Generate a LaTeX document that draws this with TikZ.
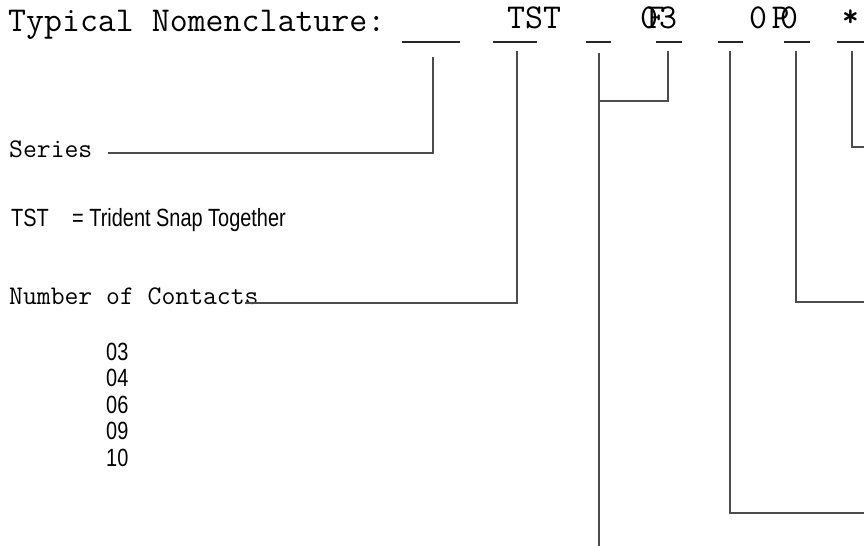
\documentclass[tikz,border=0pt]{standalone}
\usepackage{fontspec}
\setsansfont{Liberation Sans}[FakeStretch=0.8]
\usetikzlibrary{positioning}

\tikzset{
  head/.style={font=\ttfamily\fontsize{35}{40}\selectfont, anchor=base west, inner sep=0pt},
  mono/.style={font=\ttfamily\fontsize{27}{30}\selectfont, anchor=base west, inner sep=0pt},
  narrow/.style={font=\sffamily\fontsize{25}{28}\selectfont, anchor=base west, inner sep=0pt},
  blank/.style={line width=2.4bp, black!85},
  lead/.style={line width=1.3bp, black!70},
}

\begin{document}
\begin{tikzpicture}[x=1bp,y=-1bp]
  \useasboundingbox (0,0) rectangle (864,546);

  % header line
  \node[head] (title) at (8,32) {Typical Nomenclature:};
  \node[head] (tst) at (507,29) {TST};
  \node[head] (cz) at (640,29) {0};
  \node[head] (cf) at (647,29) {F};
  \node[head] (ct) at (659,29) {3};
  \node[head] (oz) at (749,29) {0};
  \node[head] (op) at (771.5,29) {P};
  \node[head] (oo) at (780,29) {0};
  \node[head,font=\ttfamily\bfseries\fontsize{32}{36}\selectfont] (star) at (842,27) {*};

  \draw[blank] (402,42) -- (460,42);
  \draw[blank] (493,42) -- (537,42);
  \draw[blank] (586,42) -- (611,42);
  \draw[blank] (656,42) -- (682,42);
  \draw[blank] (718,42) -- (743,42);
  \draw[blank] (784,42) -- (810,42);
  \draw[blank] (837,42) -- (864,42);

  % labels
  \node[mono] (series) at (9,158) {Series};
  \node[narrow] (tsta) at (11,227) {TST};
  \node[narrow] (tstb) at (72,227) {= Trident Snap Together};
  \node[mono] (contacts) at (9,305) {Number of Contacts};
  \foreach \n [count=\i] in {03,04,06,09,10}
    \node[narrow] (n\n) at (106,333.5+26.5*\i) {\n};

  % leaders
  \coordinate (s1) at (433,57);   \coordinate (s2) at (108,153);
  \coordinate (c1) at (517,51);   \coordinate (c2) at (245,303);
  \coordinate (t1) at (599,53);   \coordinate (t2) at (599,546);
  \coordinate (f1) at (668,51);   \coordinate (f2) at (599,101);
  \coordinate (p1) at (730,51);   \coordinate (p2) at (864,513);
  \coordinate (q1) at (796,51);   \coordinate (q2) at (864,302);
  \coordinate (r1) at (852,51);   \coordinate (r2) at (864,147);

  \draw[lead] (s1) |- (s2);
  \draw[lead] (c1) |- (c2);
  \draw[lead] (t1) -- (t2);
  \draw[lead] (f1) |- (f2);
  \draw[lead] (p1) |- (p2);
  \draw[lead] (q1) |- (q2);
  \draw[lead] (r1) |- (r2);
\end{tikzpicture}
\end{document}
